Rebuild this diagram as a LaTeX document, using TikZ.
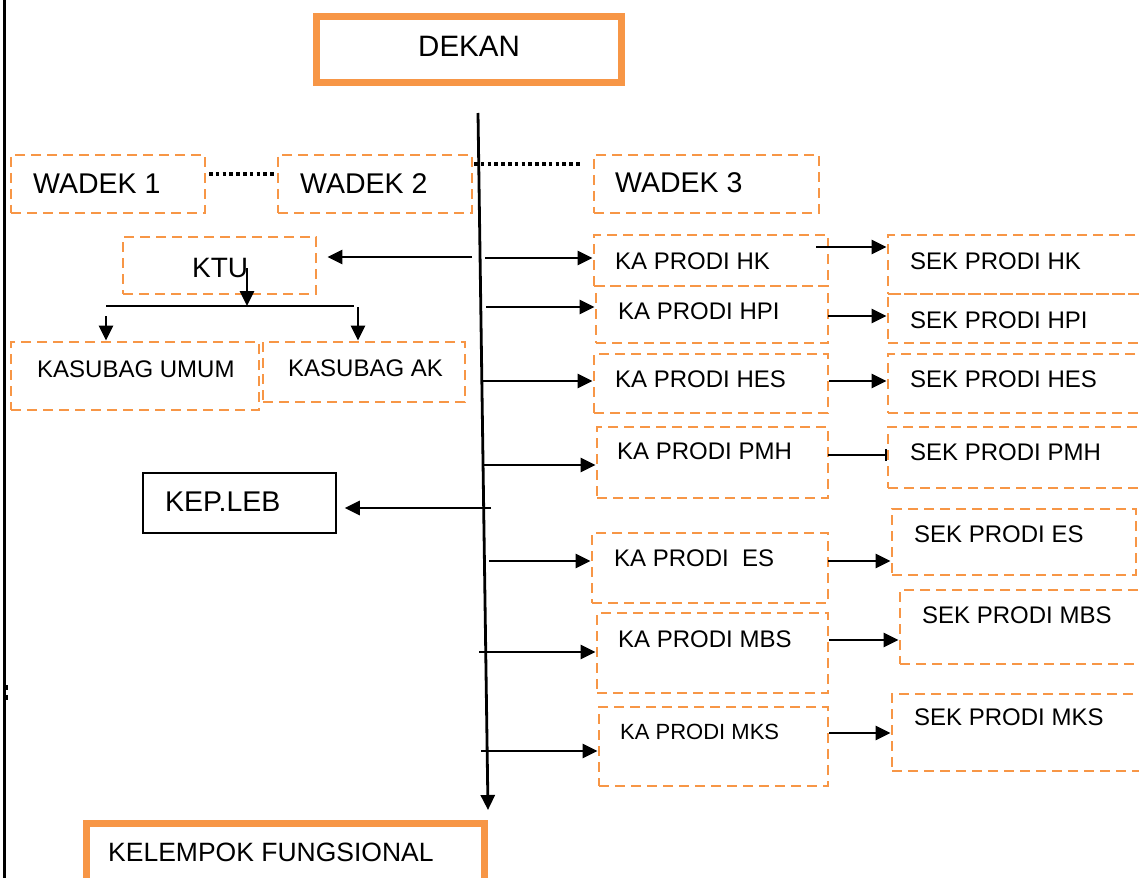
\documentclass[tikz,border=0pt]{standalone}
\usepackage{fontspec}
\setmainfont{Liberation Sans}
\usetikzlibrary{arrows.meta,fit,calc}
\definecolor{accentorange}{HTML}{F79646}
\newcommand\fsz[1]{\fontsize{#1}{#1}\selectfont}
\tikzset{
  dbox/.style={draw=accentorange,line width=2.8pt,dash pattern=on 10pt off 6pt,inner sep=0pt,fit={#1}},
  tbox/.style={draw=accentorange,line width=7pt,inner sep=0pt,fit={#1}},
  sbox/.style={draw=black,line width=1.6pt,inner sep=0pt,fit={#1}},
  lbl/.style={anchor=base west,inner sep=0pt,font=\fsz{24}},
  big/.style={lbl,font=\fsz{28.5}},
  arr/.style={line width=2.8pt,-{Triangle[length=15pt,width=14pt]}},
  barend/.style={line width=2.8pt,-{Bar[width=12pt,line width=2pt]}},
  link/.style={line width=2.8pt},
  dotline/.style={line width=4pt,dash pattern=on 3.5pt off 3.3pt},
}
\begin{document}
\begin{tikzpicture}[x=1pt,y=-1pt]
\useasboundingbox (0,0) rectangle (1139,877);

% frame line on the left and the stray colon
\draw[line width=3pt] (4,-5) -- (4,882);
\fill (4,685) rectangle (8,690);
\fill (4,695) rectangle (8,700);

% top and bottom units
\node[tbox={(316.5,16.5) (621.5,82.5)}] (dekan) {};
\node[big,font=\fsz{29.5}] (dekant) at (418,57) {DEKAN};
\node[tbox={(86.5,823.5) (484.5,890)}] (kelompok) {};
\node[lbl,font=\fsz{26.5}] (kelompokt) at (108,861) {KELEMPOK FUNGSIONAL};

% deputies
\node[dbox={(11,155) (205,213)}] (wadek1) {};
\node[big] (wadek1t) at (33,194) {WADEK 1};
\node[dbox={(278,155) (472,213)}] (wadek2) {};
\node[big] (wadek2t) at (300,194) {WADEK 2};
\node[dbox={(594,155) (819,213)}] (wadek3) {};
\node[big] (wadek3t) at (615,193) {WADEK 3};
\coordinate (d1) at (209,174);
\draw[dotline] (d1) -- (d1 -| wadek2.west);
\coordinate (d2a) at (474,164);
\coordinate (d2b) at (580,164);
\draw[dotline] (d2a) -- (d2b);

% administration
\node[dbox={(123,237) (316,294)}] (ktu) {};
\node[big,font=\fsz{28}] (ktut) at (192,277) {KTU};
\node[dbox={(11,342) (259,410)}] (kasum) {};
\node[lbl] (kasumt) at (37,377) {KASUBAG UMUM};
\node[dbox={(263,342) (465,402)}] (kasak) {};
\node[lbl] (kasakt) at (288,376) {KASUBAG AK};
\node[sbox={(143,473) (336,533)}] (kep) {};
\node[big] (kept) at (165,511) {KEP.LEB};

% heads of study programmes
\node[dbox={(594,235) (828,286)}] (kahk) {};
\node[lbl] (kahkt) at (615,269) {KA PRODI HK};
\node[dbox={(596,286) (828,343)}] (kahpi) {};
\node[lbl] (kahpit) at (618,319) {KA PRODI HPI};
\node[dbox={(594,354) (828,413)}] (kahes) {};
\node[lbl] (kahest) at (615,387) {KA PRODI HES};
\node[dbox={(597,427) (828,498)}] (kapmh) {};
\node[lbl] (kapmht) at (617,459) {KA PRODI PMH};
\node[dbox={(592,533) (828,603)}] (kaes) {};
\node[lbl] (kaest) at (614,566) {KA PRODI\ \ ES};
\node[dbox={(597,613) (828,693)}] (kambs) {};
\node[lbl] (kambst) at (618,647) {KA PRODI MBS};
\node[dbox={(599,707) (828,786)}] (kamks) {};
\node[lbl,font=\fsz{22}] (kamkst) at (620,739) {KA PRODI MKS};

% secretaries of study programmes
\node[dbox={(888,235) (1150,294)}] (sekhk) {};
\node[lbl] (sekhkt) at (910,269) {SEK PRODI HK};
\node[dbox={(888,294) (1150,343)}] (sekhpi) {};
\node[lbl] (sekhpit) at (910,328) {SEK PRODI HPI};
\node[dbox={(888,354) (1150,413)}] (sekhes) {};
\node[lbl] (sekhest) at (910,387) {SEK PRODI HES};
\node[dbox={(888,427) (1150,488)}] (sekpmh) {};
\node[lbl] (sekpmht) at (910,460) {SEK PRODI PMH};
\node[dbox={(892,509) (1136,575)}] (sekes) {};
\node[lbl] (sekest) at (914,542) {SEK PRODI ES};
\node[dbox={(900,590) (1150,664)}] (sekmbs) {};
\node[lbl] (sekmbst) at (922,623) {SEK PRODI MBS};
\node[dbox={(892,694) (1150,771)}] (sekmks) {};
\node[lbl] (sekmkst) at (914,725) {SEK PRODI MKS};

% main vertical line
\coordinate (vtop) at (478,113);
\coordinate (vbot) at (488,810);
\draw[arr] (vtop) -- (vbot);

% branches to the left
\coordinate (l1) at (472,257);
\draw[arr,shorten >=10pt] (l1) -- (l1 -| ktu.east);
\coordinate (l2) at (491,508);
\draw[arr,shorten >=8pt] (l2) -- (l2 -| kep.east);

% KTU to its sub-units
\coordinate (kd) at (247,268);
\coordinate (kj) at (247,306);
\draw[arr] (kd) -- (kj);
\coordinate (bl) at (106,306);
\coordinate (br) at (354,306);
\draw[link] (bl) -- (br);
\coordinate (dl) at (106,316);
\draw[arr] (dl) -- (dl |- kasum.north);
\coordinate (dr) at (358,307);
\draw[arr] (dr) -- (dr |- kasak.north);

% branches to the heads of programmes
\coordinate (s1) at (485,258);
\draw[arr] (s1) -- (s1 -| kahk.west);
\coordinate (s2) at (486,307);
\draw[arr] (s2) -- (s2 -| kahpi.west);
\coordinate (s3) at (482,381);
\draw[arr] (s3) -- (s3 -| kahes.west);
\coordinate (s4) at (483,465);
\draw[arr] (s4) -- (s4 -| kapmh.west);
\coordinate (s5) at (489,561);
\draw[arr] (s5) -- (s5 -| kaes.west);
\coordinate (s6) at (479,652);
\draw[arr] (s6) -- (s6 -| kambs.west);
\coordinate (s7) at (481,751);
\draw[arr] (s7) -- (s7 -| kamks.west);

% heads to secretaries
\coordinate (h1) at (816,247);
\draw[arr] (h1) -- (h1 -| sekhk.west);
\coordinate (h2) at (828,316);
\draw[arr] (h2) -- (h2 -| sekhpi.west);
\coordinate (h3) at (829,381);
\draw[arr] (h3) -- (h3 -| sekhes.west);
\coordinate (h4) at (828,455);
\draw[barend] (h4) -- (h4 -| sekpmh.west);
\coordinate (h5) at (828,561);
\draw[arr] (h5) -- (h5 -| sekes.west);
\coordinate (h6) at (829,640);
\draw[arr] (h6) -- (h6 -| sekmbs.west);
\coordinate (h7) at (829,733);
\draw[arr] (h7) -- (h7 -| sekmks.west);
\end{tikzpicture}
\end{document}
